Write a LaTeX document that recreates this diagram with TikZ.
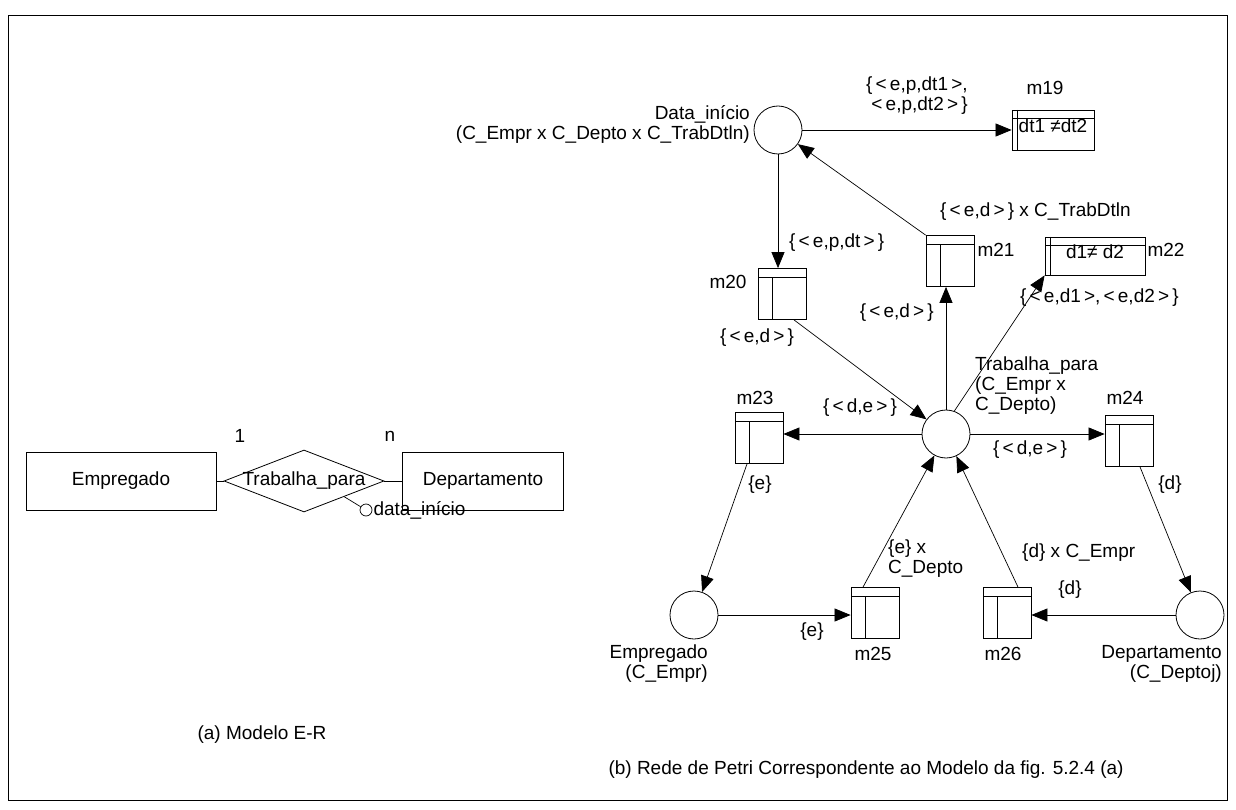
\documentclass[tikz,border=0pt]{standalone}
\usepackage{fontspec}
\setmainfont{Liberation Sans}
\usetikzlibrary{arrows.meta,shapes.geometric}
\begin{document}
\begin{tikzpicture}[x=1pt,y=-1pt,
  every node/.style={font=\fontsize{19}{20}\selectfont},
  place/.style={draw,circle,minimum size=48pt,inner sep=0pt,line width=0.8pt},
  trans/.style={draw,rectangle,minimum width=48pt,minimum height=51pt,inner sep=0pt,line width=0.8pt,
    path picture={\draw[line width=0.8pt] ([yshift=-9pt]path picture bounding box.north west) -- ([yshift=-9pt]path picture bounding box.north east);
      \draw[line width=0.8pt] ([xshift=14pt,yshift=-9pt]path picture bounding box.north west) -- ([xshift=14pt]path picture bounding box.south west);}},
  wbox/.style={draw,rectangle,minimum width=82pt,minimum height=40pt,inner sep=0pt,line width=0.8pt,
    path picture={\draw[line width=0.8pt] ([yshift=-8pt]path picture bounding box.north west) -- ([yshift=-8pt]path picture bounding box.north east);
      \draw[line width=0.8pt] ([xshift=5pt]path picture bounding box.north west) -- ([xshift=5pt]path picture bounding box.south west);}},
  erbox/.style={draw,rectangle,minimum width=190pt,minimum height=58pt,inner sep=0pt,line width=0.8pt},
  arr/.style={-{Triangle[length=16pt,width=13pt]},line width=0.7pt},
  ln/.style={line width=0.7pt}
]
\useasboundingbox (0,0) rectangle (1236,810);
\draw[line width=1pt] (8,16) rectangle (1227,800);

% ---- (a) E-R model ----
\node[erbox] (eemp) at (121,481) {};
\node at (eemp) {Empregado};
\node[draw,diamond,minimum width=160pt,minimum height=62pt,inner sep=0pt,line width=0.8pt] (rel) at (304,481) {};
\node at (rel) {Trabalha\_para};
\node[erbox,minimum width=161pt] (edep) at (483,481) {};
\node at (edep) {Departamento};
\node[draw,circle,minimum size=12pt,inner sep=0pt,line width=0.7pt] (att) at (366,510) {};
\node[anchor=west,inner sep=1pt] (attl) at (att.east) {data\_início};
\draw[ln] (eemp.east) -- (rel.west);
\draw[ln] (rel.east) -- (edep.west);
\draw[ln] (rel.south east) -- (att);
\node (c1) at (240,436) {1};
\node (cn) at (390,436) {n};
\node (capa) at (262,735) {(a) Modelo E-R};

% ---- (b) Petri net ----
\node[place] (pdata) at (778,130) {};
\node[anchor=east,align=right,inner sep=0pt] (pdatal) at (750,124) {Data\_início\\(C\_Empr x C\_Depto x C\_TrabDtln)};
\node[wbox] (m19) at (1053,130) {};
\node (m19t) at ([yshift=4pt]m19.center) {dt1 ≠dt2};
\node (m19l) at (1045,88) {m19};

\node[trans] (m20) at (782,294) {};
\node[anchor=east] (m20l) at (750,282) {m20};
\node[trans] (m21) at (950,261) {};
\node[anchor=west] (m21l) at (974,250) {m21};
\node[wbox,minimum width=100pt,minimum height=38pt] (m22) at (1095,256) {};
\node (m22t) at ([yshift=4pt]m22.center) {d1≠ d2};
\node[anchor=west] (m22l) at (1144,250) {m22};

\node[place] (trab) at (946,434) {};
\node[anchor=north west,align=left,inner sep=0pt] (trabl) at (975,357) {Trabalha\_para\\(C\_Empr x\\C\_Depto)};

\node[trans] (m23) at (759,438) {};
\node (m23l) at (755,398) {m23};
\node[trans] (m24) at (1129,441) {};
\node (m24l) at (1125,398) {m24};

\node[place] (emp) at (694,615) {};
\node[anchor=north east,align=right,inner sep=0pt] (empl) at (708,645) {Empregado\\(C\_Empr)};
\node[place] (dep) at (1200,615) {};
\node[anchor=north east,align=right,inner sep=0pt] (depl) at (1222,645) {Departamento\\(C\_Deptoj)};

\node[trans] (m25) at (875,613) {};
\node (m25l) at (873,654) {m25};
\node[trans] (m26) at (1007,613) {};
\node (m26l) at (1003,654) {m26};

% arcs
\draw[arr] (pdata.east) -- (pdata.east -| m19.west);
\draw[arr] (pdata.south) -- (pdata.south |- m20.north);
\draw[arr] (m21.north west) -- (pdata);
\draw[arr] (trab.north) -- (trab.north |- m21.south);
\draw[arr] (trab.70) -- (m22.south west);
\draw[arr] ([xshift=12pt]m20.south) -- (trab);
\draw[arr] (trab.west) -- (trab.west -| m23.east);
\draw[arr] (trab.east) -- (trab.east -| m24.west);
\draw[arr] ([xshift=-12pt]m23.south) -- (emp);
\draw[arr] (emp.east) -- (emp.east -| m25.west);
\draw[arr] ([xshift=-12pt]m25.north) -- (trab);
\draw[arr] (dep.west) -- (dep.west -| m26.east);
\draw[arr] ([xshift=11pt]m26.north) -- (trab);
\draw[arr] ([xshift=11pt]m24.south) -- (dep);

% arc labels
\node[anchor=west,align=left,inner sep=0pt] (l1) at (866,96) {\{\,<\,e,p,dt1\,>,\\\ <\,e,p,dt2\,>\,\}};
\node[anchor=west,inner sep=0pt] (l2) at (789,243) {\{\,<\,e,p,dt\,>\,\}};
\node[anchor=west,inner sep=0pt] (l3) at (940,212) {\{\,<\,e,d\,>\,\} x C\_TrabDtln};
\node[anchor=west,inner sep=0pt] (l4) at (1020,298) {\{\,<\,e,d1\,>,\,<\,e,d2\,>\,\}};
\node[anchor=east,inner sep=0pt] (l5) at (934,313) {\{\,<\,e,d\,>\,\}};
\node[inner sep=0pt] (l6) at (757,338) {\{\,<\,e,d\,>\,\}};
\node[inner sep=0pt] (l7) at (860,408) {\{\,<\,d,e\,>\,\}};
\node[inner sep=0pt] (l8) at (1030,450) {\{\,<\,d,e\,>\,\}};
\node[inner sep=0pt] (l9) at (760,485) {\{e\}};
\node[inner sep=0pt] (l10) at (1170,485) {\{d\}};
\node[anchor=west,align=left,inner sep=0pt] (l11) at (888,559) {\{e\} x\\C\_Depto};
\node[anchor=west,inner sep=0pt] (l12) at (1022,553) {\{d\} x C\_Empr};
\node[inner sep=0pt] (l13) at (1070,590) {\{d\}};
\node[inner sep=0pt] (l14) at (812,632) {\{e\}};

\node[anchor=west] (capb) at (605,770) {(b) Rede de Petri Correspondente ao Modelo da fig. 5.2.4 (a)};
\end{tikzpicture}
\end{document}
